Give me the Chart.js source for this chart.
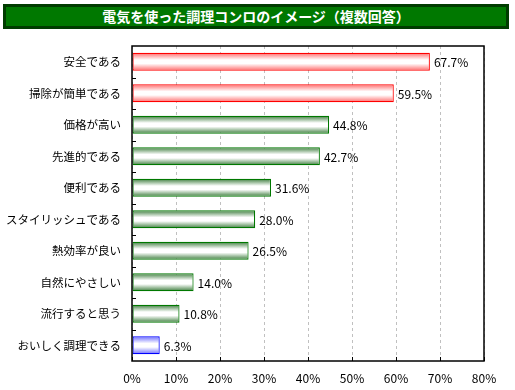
<!DOCTYPE html>
<html>
<head>
<meta charset="utf-8">
<script src="https://cdn.jsdelivr.net/npm/chart.js@4/dist/chart.umd.min.js"></script>
<style>
  body { margin: 0; background: #fff; }
  #wrap { position: relative; width: 515px; height: 390px; }
  #title {
    position: absolute; left: 3px; top: 4px; width: 506px; height: 25px;
    box-sizing: border-box; border: 3px solid #003c00; background: #007800;
    color: #fff; font: bold 14px "Noto Sans CJK JP", sans-serif;
    text-align: center; line-height: 19px;
  }
  canvas { position: absolute; left: 0; top: 0; }
</style>
</head>
<body>
<div id="wrap">
  <canvas id="chart" width="515" height="390"></canvas>
  <div id="title">電気を使った調理コンロのイメージ（複数回答）</div>
</div>
<script>
// data
var categories = ["安全である", "掃除が簡単である", "価格が高い", "先進的である", "便利である",
  "スタイリッシュである", "熱効率が良い", "自然にやさしい", "流行すると思う", "おいしく調理できる"];
var values = [67.7, 59.5, 44.8, 42.7, 31.6, 28.0, 26.5, 14.0, 10.8, 6.3];
var groups = ["red", "red", "green", "green", "green", "green", "green", "green", "green", "blue"];
var xTicks = [0, 10, 20, 30, 40, 50, 60, 70, 80];

var palette = {
  red:   { border: "#ff0000", edge: "#ff6a6a" },
  green: { border: "#007800", edge: "#3c7c3c" },
  blue:  { border: "#0000ff", edge: "#6a6aff" }
};

var FONT = '"Noto Sans CJK JP", sans-serif';
var BAR_H = 18;

function barFill(ctx) {
  var chart = ctx.chart;
  var y = chart.scales.y;
  var c = palette[groups[ctx.dataIndex]];
  if (!y || y.top === undefined) return c.edge;
  var cy = y.getPixelForValue(ctx.dataIndex);
  var g = chart.ctx.createLinearGradient(0, cy - BAR_H / 2, 0, cy + BAR_H / 2);
  g.addColorStop(0, c.edge);
  g.addColorStop(0.4, "#ffffff");
  g.addColorStop(0.6, "#ffffff");
  g.addColorStop(1, c.edge);
  return g;
}

// frame box, inside tick marks and value labels
var extras = {
  id: "extras",
  afterDatasetsDraw: function (chart) {
    var ctx = chart.ctx, a = chart.chartArea;
    var xs = chart.scales.x, ys = chart.scales.y;
    ctx.save();
    ctx.strokeStyle = "#000";
    ctx.lineWidth = 1.5;
    ctx.strokeRect(a.left, a.top, a.right - a.left, a.bottom - a.top);
    ctx.lineWidth = 1;
    ctx.beginPath();
    xTicks.forEach(function (t) {
      var px = Math.round(xs.getPixelForValue(t)) + 0.5;
      ctx.moveTo(px, a.bottom);
      ctx.lineTo(px, a.bottom - 4);
    });
    for (var i = 1; i < categories.length; i++) {
      var py = Math.round(ys.getPixelForValue(i - 0.5)) + 0.5;
      ctx.moveTo(a.left, py);
      ctx.lineTo(a.left + 4, py);
    }
    ctx.stroke();

    ctx.fillStyle = "#000";
    ctx.font = "12px " + FONT;
    ctx.textBaseline = "middle";
    ctx.textAlign = "left";
    chart.getDatasetMeta(0).data.forEach(function (bar, i) {
      ctx.fillText(values[i].toFixed(1) + "%", bar.x + 4, bar.y + 1);
    });
    ctx.restore();
  }
};

new Chart(document.getElementById("chart"), {
  type: "bar",
  data: {
    labels: categories,
    datasets: [{
      data: values,
      backgroundColor: barFill,
      borderColor: groups.map(function (g) { return palette[g].border; }),
      borderWidth: 1.2,
      borderSkipped: false,
      barPercentage: 1,
      categoryPercentage: 18 / 31.5
    }]
  },
  options: {
    indexAxis: "y",
    responsive: false,
    animation: false,
    events: [],
    layout: { padding: { top: 46, right: 31, left: 0, bottom: 0 } },
    plugins: { legend: { display: false }, tooltip: { enabled: false } },
    scales: {
      x: {
        min: 0, max: 80,
        afterBuildTicks: function (s) { s.ticks = xTicks.map(function (v) { return { value: v }; }); },
        afterFit: function (s) { s.height = 29; },
        ticks: {
          color: "#000", padding: 10, maxRotation: 0,
          font: { family: FONT, size: 12 },
          callback: function (v) { return v + "%"; }
        },
        grid: { color: "#c0c0c0", drawTicks: false, lineWidth: 1 },
        border: { display: false, dash: [3, 3] }
      },
      y: {
        afterFit: function (s) { s.width = 132; },
        ticks: { color: "#000", padding: 11, font: { family: FONT, size: 11.5 } },
        grid: { display: false, drawTicks: false },
        border: { display: false }
      }
    }
  },
  plugins: [extras]
});
</script>
</body>
</html>
